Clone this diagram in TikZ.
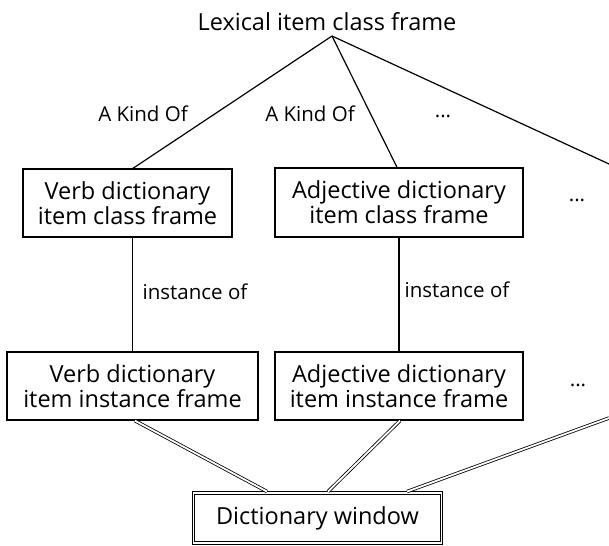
\documentclass[tikz,border=0pt]{standalone}
\usepackage{fontspec}
\setmainfont{Open Sans}
\usetikzlibrary{calc}
\begin{document}
\begin{tikzpicture}[x=1pt,y=-1pt,
  txt/.style={font=\fontsize{23.5}{25}\selectfont, inner sep=0pt},
  lbl/.style={font=\fontsize{20.5}{22}\selectfont, inner sep=0pt},
  box/.style={txt, draw, line width=1.4pt, align=center},
  thin/.style={line width=1.2pt},
  dbl/.style={double, line width=0.8pt, double distance=1.8pt}]
\useasboundingbox (0,0) rectangle (609,545);
\node[txt] (top) at (327,22) {Lexical item class frame};
\coordinate (apex) at (332,36);
\node[box, minimum width=209pt, minimum height=68pt] (vc) at (127.5,203) {Verb dictionary\\item class frame};
\node[box, minimum width=248pt, minimum height=69pt] (ac) at (399,202.5) {Adjective dictionary\\item class frame};
\node[box, minimum width=251pt, minimum height=68pt] (vi) at (132.5,386) {Verb dictionary\\item instance frame};
\node[box, minimum width=248pt, minimum height=68pt] (ai) at (399,386) {Adjective dictionary\\item instance frame};
\node[txt, draw, double, line width=0.9pt, double distance=1.6pt, minimum width=248pt, minimum height=50pt] (dw) at (317.5,518) {Dictionary window};
\coordinate (rEnd) at (609,164);
\coordinate (rEnd2) at (609,418);
% kind-of lines
\draw[thin] (apex) -- ($(vc.north)+(5.5,0)$);
\draw[thin] (apex) -- ($(ac.north)+(-2,0)$);
\draw[thin] (apex) -- (rEnd);
\node[lbl] (k1) at (143,114) {A Kind Of};
\node[lbl] (k2) at (310,114) {A Kind Of};
\node[lbl] (d1) at (443,116) {...};
\node[lbl] (d2) at (577,200) {...};
\node[lbl] (d3) at (578,385) {...};
% instance lines
\draw[thin] (vi.north |- vc.south) -- (vi.north);
\draw[thin] (ac.south) -- (ai.north);
\node[lbl] (i1) at (195,292) {instance of};
\node[lbl] (i2) at (457,290) {instance of};
% double connectors
\draw[dbl] ($(vi.south)+(2.5,0)$) -- ($(dw.north)+(-50.5,-1)$);
\draw[dbl] ($(ai.south)+(1,0)$) -- ($(dw.north)+(10.5,-1)$);
\draw[dbl] (rEnd2) -- ($(dw.north)+(89.5,-1)$);
\end{tikzpicture}
\end{document}
